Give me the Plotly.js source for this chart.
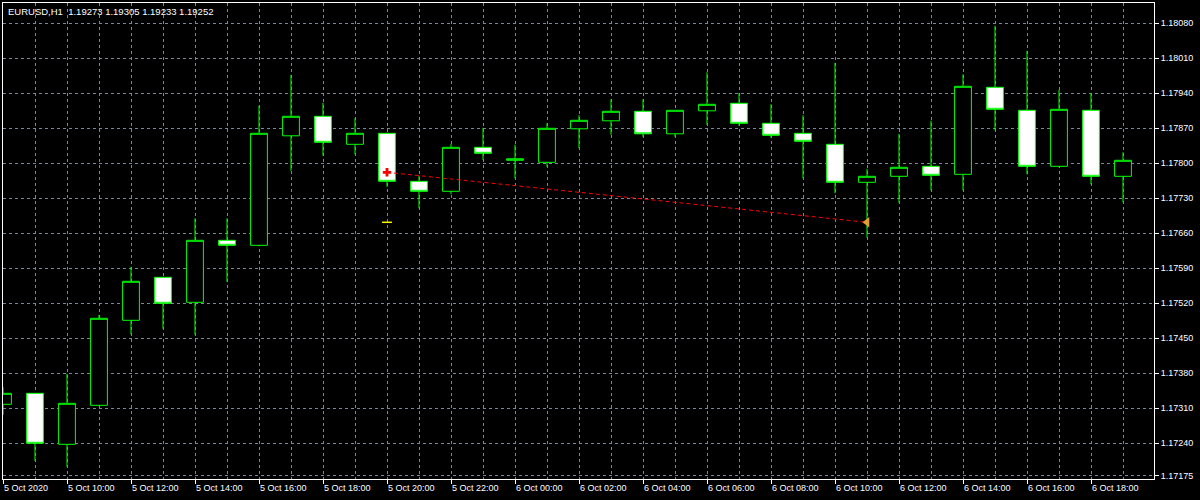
<!DOCTYPE html>
<html>
<head>
<meta charset="utf-8">
<script src="https://cdn.plot.ly/plotly-3.0.1.min.js"></script>
<style>
  html, body { margin: 0; padding: 0; background: #000; }
  #chart { width: 1200px; height: 500px; }
</style>
</head>
<body>
<div id="chart"></div>
<script>
// ---- Data (EURUSD, H1) ----
const times = [
  "2020-10-05 08:00", "2020-10-05 09:00", "2020-10-05 10:00", "2020-10-05 11:00",
  "2020-10-05 12:00", "2020-10-05 13:00", "2020-10-05 14:00", "2020-10-05 15:00",
  "2020-10-05 16:00", "2020-10-05 17:00", "2020-10-05 18:00", "2020-10-05 19:00",
  "2020-10-05 20:00", "2020-10-05 21:00", "2020-10-05 22:00", "2020-10-05 23:00",
  "2020-10-06 00:00", "2020-10-06 01:00", "2020-10-06 02:00", "2020-10-06 03:00",
  "2020-10-06 04:00", "2020-10-06 05:00", "2020-10-06 06:00", "2020-10-06 07:00",
  "2020-10-06 08:00", "2020-10-06 09:00", "2020-10-06 10:00", "2020-10-06 11:00",
  "2020-10-06 12:00", "2020-10-06 13:00", "2020-10-06 14:00", "2020-10-06 15:00",
  "2020-10-06 16:00", "2020-10-06 17:00", "2020-10-06 18:00", "2020-10-06 19:00"
];
const openP = [
  1.17318, 1.17340, 1.17238, 1.17316, 1.17486, 1.17572, 1.17522, 1.17646,
  1.17636, 1.17855, 1.17894, 1.17838, 1.17860, 1.17764, 1.17744, 1.17832,
  1.17806, 1.17802, 1.17869, 1.17885, 1.17904, 1.17859, 1.17905, 1.17920,
  1.17880, 1.17860, 1.17838, 1.17762, 1.17774, 1.17794, 1.17778, 1.17952,
  1.17906, 1.17794, 1.17906, 1.17774
];
const highP = [
  1.17352, 1.17340, 1.17379, 1.17497, 1.17593, 1.17573, 1.17690, 1.17690,
  1.17915, 1.17977, 1.17921, 1.17890, 1.17861, 1.17775, 1.17839, 1.17871,
  1.17837, 1.17880, 1.17896, 1.17928, 1.17928, 1.17906, 1.17982, 1.17940,
  1.17918, 1.17896, 1.18001, 1.17789, 1.17859, 1.17885, 1.17978, 1.18075,
  1.18025, 1.17947, 1.17940, 1.17822
];
const lowP = [
  1.17297, 1.17205, 1.17193, 1.17314, 1.17458, 1.17469, 1.17457, 1.17563,
  1.17634, 1.17785, 1.17815, 1.17818, 1.17753, 1.17710, 1.17738, 1.17807,
  1.17770, 1.17793, 1.17830, 1.17857, 1.17853, 1.17853, 1.17877, 1.17875,
  1.17851, 1.17770, 1.17740, 1.17651, 1.17721, 1.17746, 1.17746, 1.17866,
  1.17778, 1.17792, 1.17758, 1.17722
];
const closeP = [
  1.17340, 1.17240, 1.17320, 1.17490, 1.17564, 1.17520, 1.17646, 1.17636,
  1.17860, 1.17894, 1.17842, 1.17860, 1.17764, 1.17744, 1.17832, 1.17820,
  1.17809, 1.17870, 1.17886, 1.17904, 1.17859, 1.17906, 1.17918, 1.17880,
  1.17856, 1.17844, 1.17762, 1.17774, 1.17792, 1.17776, 1.17954, 1.17908,
  1.17794, 1.17908, 1.17774, 1.17806
];

// Trade (sell) drawn on chart
const tradeTimes = ["2020-10-05 20:00", "2020-10-06 11:00"];
const tradePrices = [1.17782, 1.17682];
const tpTime = ["2020-10-05 20:00"];
const tpPrice = [1.17682];

// Axis ticks
const xTickVals = [
  "2020-10-05 08:00", "2020-10-05 10:00", "2020-10-05 12:00", "2020-10-05 14:00",
  "2020-10-05 16:00", "2020-10-05 18:00", "2020-10-05 20:00", "2020-10-05 22:00",
  "2020-10-06 00:00", "2020-10-06 02:00", "2020-10-06 04:00", "2020-10-06 06:00",
  "2020-10-06 08:00", "2020-10-06 10:00", "2020-10-06 12:00", "2020-10-06 14:00",
  "2020-10-06 16:00", "2020-10-06 18:00"
];
const xTickText = [
  "5 Oct 2020", "5 Oct 10:00", "5 Oct 12:00", "5 Oct 14:00", "5 Oct 16:00",
  "5 Oct 18:00", "5 Oct 20:00", "5 Oct 22:00", "6 Oct 00:00", "6 Oct 02:00",
  "6 Oct 04:00", "6 Oct 06:00", "6 Oct 08:00", "6 Oct 10:00", "6 Oct 12:00",
  "6 Oct 14:00", "6 Oct 16:00", "6 Oct 18:00"
];
const yTickVals = [1.17175, 1.17240, 1.17310, 1.17380, 1.17450, 1.17520, 1.17590,
  1.17660, 1.17730, 1.17800, 1.17870, 1.17940, 1.18010, 1.18080];
const yTickText = ["1.17175", "1.17240", "1.17310", "1.17380", "1.17450", "1.17520", "1.17590",
  "1.17660", "1.17730", "1.17800", "1.17870", "1.17940", "1.18010", "1.18080"];

const headerText = "EURUSD,H1\u00a0 1.19273 1.19305 1.19233 1.19252";

// ---- Styling ----
const FONT = "Liberation Sans, Arial, sans-serif";
const GRID = "#778899";
const GREEN = "#00ff00";

const candles = {
  type: "candlestick",
  x: times, open: openP, high: highP, low: lowP, close: closeP,
  increasing: { line: { color: GREEN, width: 1 }, fillcolor: "#000000" },
  decreasing: { line: { color: GREEN, width: 1 }, fillcolor: "#ffffff" },
  whiskerwidth: 0,
  hoverinfo: "skip",
  showlegend: false
};

const tradeLine = {
  type: "scatter", mode: "lines",
  x: tradeTimes, y: tradePrices,
  line: { color: "#ff0000", width: 1, dash: "4px,3px" },
  hoverinfo: "skip", showlegend: false
};
const openMark = {
  type: "scatter", mode: "markers",
  x: [tradeTimes[0]], y: [tradePrices[0]],
  marker: { symbol: "cross", size: 7, color: "#ff0000", line: { width: 0 } },
  hoverinfo: "skip", showlegend: false
};
const closeMark = {
  type: "scatter", mode: "markers",
  x: [tradeTimes[1]], y: [tradePrices[1]],
  marker: { symbol: "triangle-left", size: 9, color: "#e0a030", line: { width: 0 } },
  hoverinfo: "skip", showlegend: false
};
const tpMark = {
  type: "scatter", mode: "markers",
  x: tpTime, y: tpPrice,
  marker: { symbol: "line-ew", size: 7, color: "#ffff00", line: { color: "#ffff00", width: 1.5 } },
  hoverinfo: "skip", showlegend: false
};

const layout = {
  width: 1200, height: 500,
  paper_bgcolor: "#000000", plot_bgcolor: "#000000",
  margin: { l: 3, r: 46, t: 3, b: 21, pad: 0 },
  boxgap: 0.25,
  showlegend: false,
  font: { family: FONT, size: 9, color: "#ffffff" },
  xaxis: {
    type: "date",
    range: ["2020-10-05 08:00", "2020-10-06 19:58:07"],
    rangeslider: { visible: false },
    tickmode: "array", tickvals: xTickVals, ticktext: xTickText,
    ticks: "outside", ticklen: 4, tickcolor: "#ffffff", tickwidth: 1,
    ticklabelposition: "outside right",
    tickfont: { family: FONT, size: 9, color: "#ffffff" },
    showgrid: true, gridcolor: GRID, gridwidth: 1, griddash: "3px,3px",
    minor: { dtick: 3600000, tick0: "2020-10-05 08:00", showgrid: true,
             gridcolor: GRID, gridwidth: 1, griddash: "3px,3px", ticks: "" },
    showline: true, linecolor: "#ffffff", linewidth: 1, mirror: true,
    zeroline: false, fixedrange: true
  },
  yaxis: {
    side: "right",
    range: [1.171686, 1.181206],
    tickmode: "array", tickvals: yTickVals, ticktext: yTickText,
    ticks: "outside", ticklen: 4, tickcolor: "#ffffff", tickwidth: 1,
    tickfont: { family: FONT, size: 9, color: "#ffffff" },
    showgrid: true, gridcolor: GRID, gridwidth: 1, griddash: "3px,3px",
    showline: true, linecolor: "#ffffff", linewidth: 1, mirror: true,
    zeroline: false, fixedrange: true
  },
  annotations: [{
    xref: "paper", yref: "paper", x: 0, y: 1,
    xanchor: "left", yanchor: "top", xshift: 3, yshift: -1,
    text: headerText, showarrow: false,
    font: { family: FONT, size: 9.5, color: "#ffffff" }
  }]
};

Plotly.newPlot("chart", [candles, tradeLine, tpMark, openMark, closeMark], layout,
  { displayModeBar: false, staticPlot: true });
</script>
</body>
</html>
